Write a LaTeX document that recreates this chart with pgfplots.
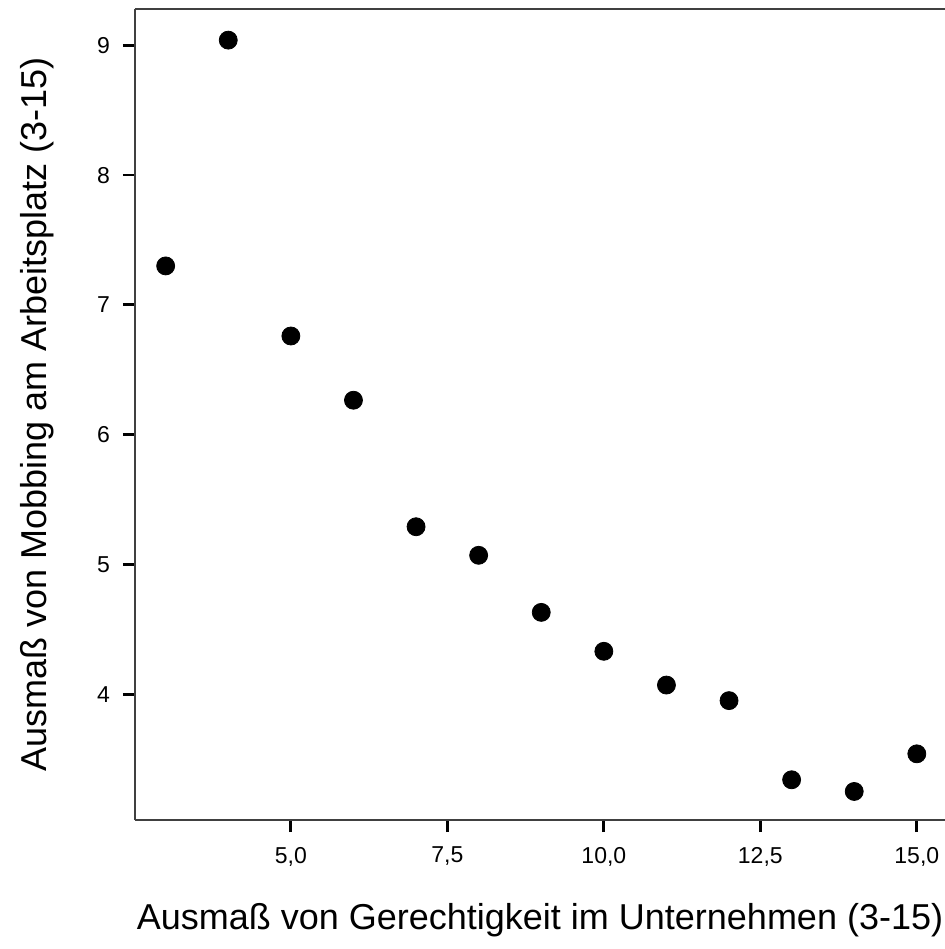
\documentclass[border=0pt]{standalone}
\usepackage{fontspec}
\setmainfont{Liberation Sans}
\usepackage{pgfplots}
\pgfplotsset{compat=1.18}

\begin{document}
\begin{tikzpicture}
\begin{axis}[
  scale only axis,
  width=405pt,height=405.5pt,
  xmin=2.51,xmax=15.45,ymin=3.03,ymax=9.28,
  axis x line*=box,axis y line*=left,
  xtick pos=lower,ytick pos=left,
  axis line style={draw=black!75,line width=1pt},
  tick align=outside,
  major tick length=6pt,
  tick style={black,line width=1.4pt},
  xtick={5,7.5,10,12.5,15},
  ytick={4,5,6,7,8,9},
  xticklabels={{5,0},{7,5},{10,0},{12,5},{15,0}},
  /pgf/number format/assume math mode=true,
  tick label style={font=\fontsize{11.5}{13}\selectfont},
  xticklabel style={yshift=-4pt},
  yticklabel style={xshift=-3pt},
  xlabel={Ausmaß von Gerechtigkeit im Unternehmen (3-15)},
  ylabel={Ausmaß von Mobbing am Arbeitsplatz (3-15)},
  label style={font=\fontsize{18}{21}\selectfont},
  xlabel style={at={(axis description cs:0.5,0)},anchor=center,yshift=-50pt},
  ylabel style={at={(axis description cs:0,0.5)},anchor=center,yshift=49pt},
  clip=false
]
\addplot[only marks,mark=*,mark size=4.5pt,black] coordinates {
  (3,7.30)(4,9.04)(5,6.76)(6,6.265)(7,5.29)(8,5.07)(9,4.63)
  (10,4.33)(11,4.07)(12,3.95)(13,3.34)(14,3.25)(15,3.54)};
\end{axis}
\pgfresetboundingbox
\path (-67.5pt,-64.5pt) rectangle (405pt,410pt);
\end{tikzpicture}
\end{document}
